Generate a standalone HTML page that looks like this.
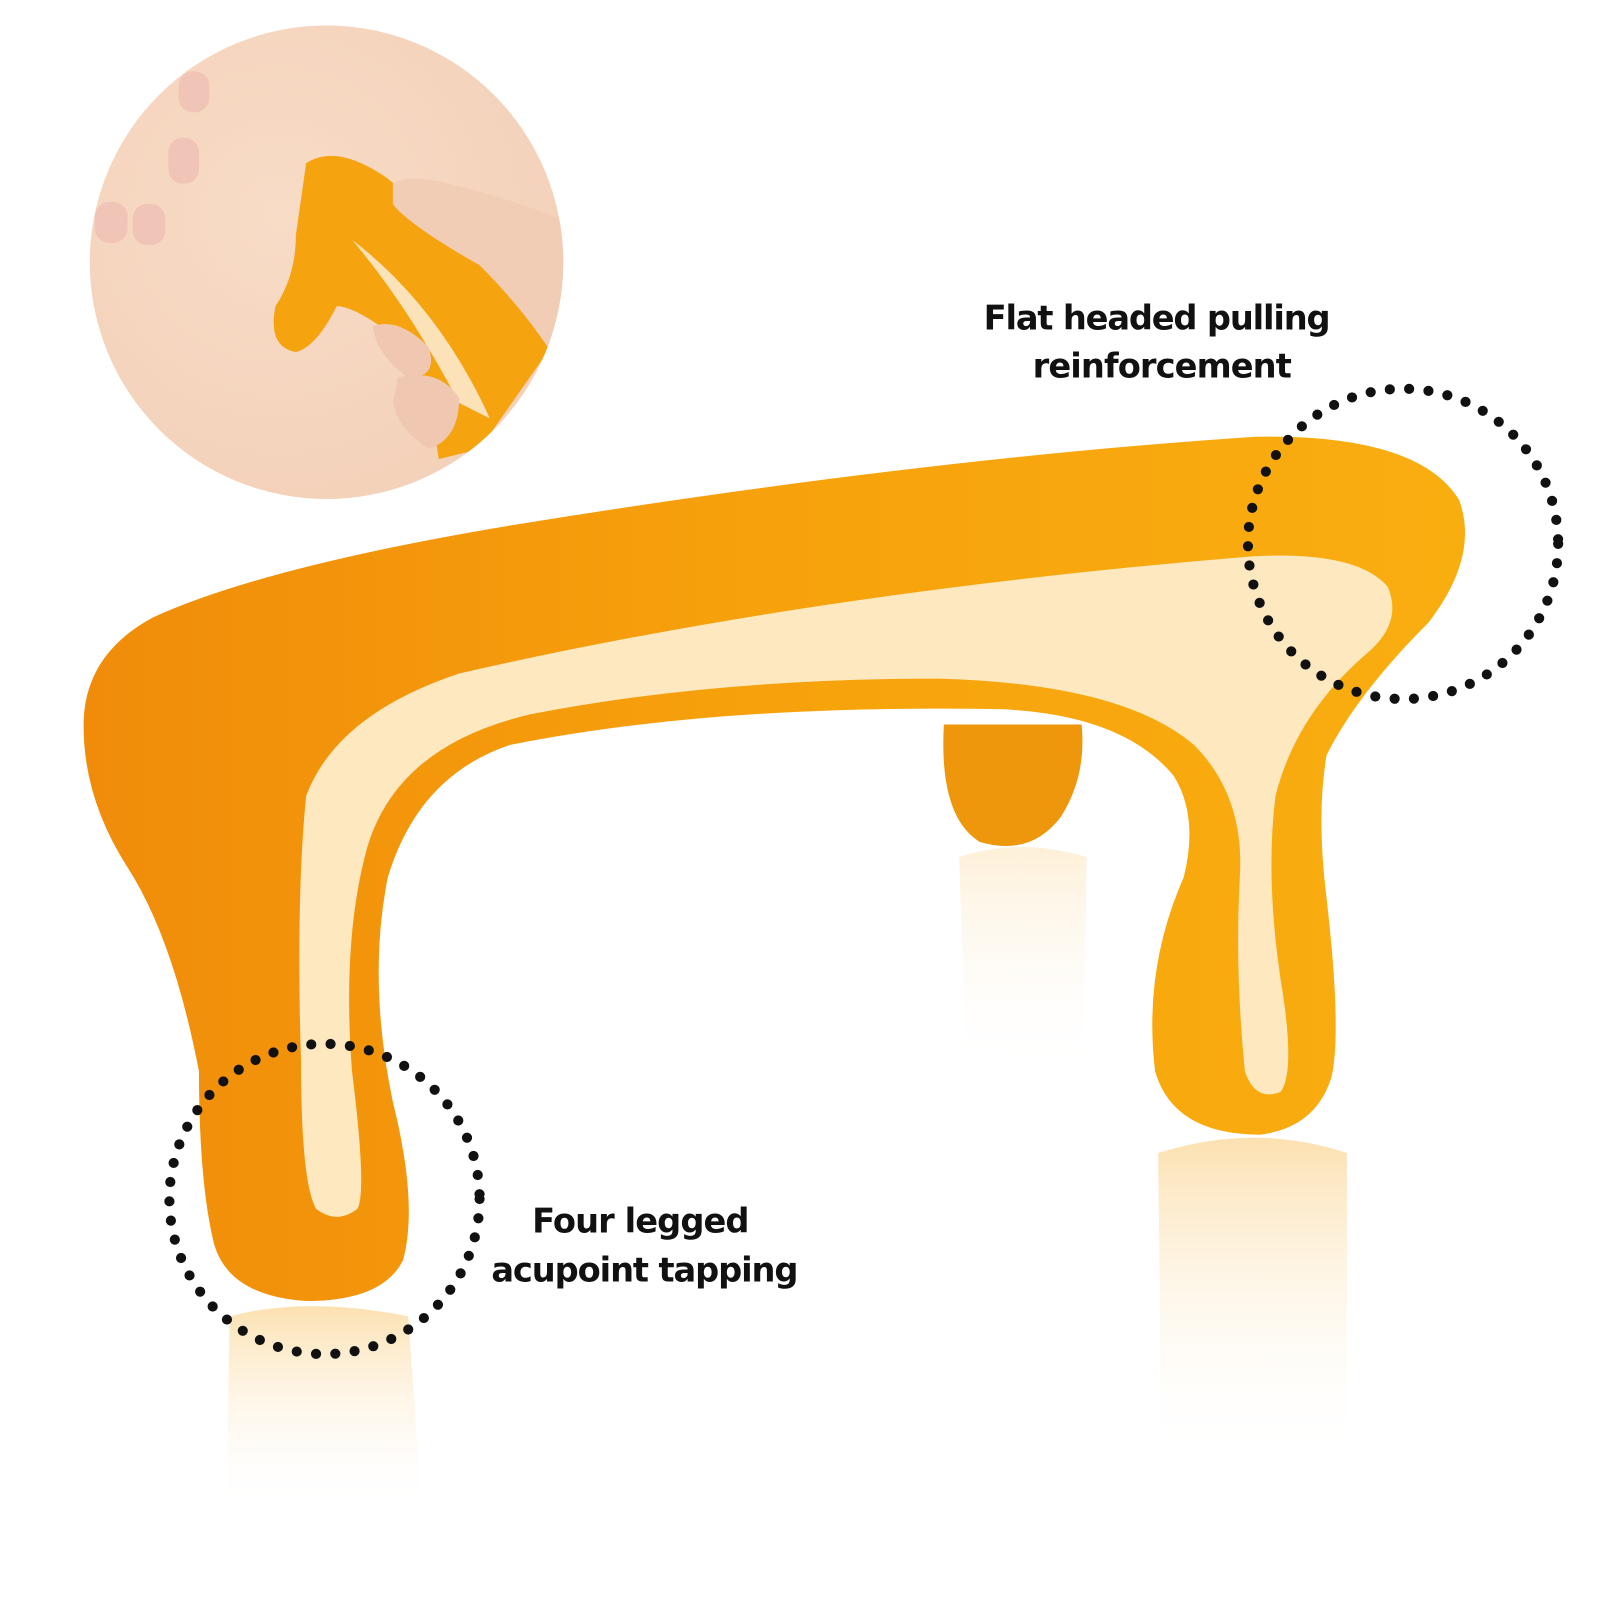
<!DOCTYPE html>
<html><head><meta charset="utf-8"><style>
html,body{margin:0;padding:0;background:#fff;width:1600px;height:1600px;overflow:hidden}
svg{display:block}
text{font-family:"DejaVu Sans","Liberation Sans",sans-serif;font-weight:bold;fill:#111}
</style></head><body>
<svg width="1600" height="1600" viewBox="0 0 1568 1568" xmlns="http://www.w3.org/2000/svg">
<defs>
<linearGradient id="org" x1="0" y1="0" x2="1" y2="0">
<stop offset="0" stop-color="#f08c0a"/><stop offset="0.5" stop-color="#f7a20c"/><stop offset="1" stop-color="#f9ae10"/>
</linearGradient>
<radialGradient id="skin" cx="0.4" cy="0.4" r="0.7">
<stop offset="0" stop-color="#f8dcc7"/><stop offset="1" stop-color="#f3d0b8"/>
</radialGradient>
<linearGradient id="refl" x1="0" y1="0" x2="0" y2="1">
<stop offset="0" stop-color="#f9c870" stop-opacity="0.55"/><stop offset="0.7" stop-color="#fff" stop-opacity="0"/>
</linearGradient>
<clipPath id="cc"><circle cx="320" cy="257" r="232"/></clipPath>
</defs>
<circle cx="320" cy="257" r="232" fill="url(#skin)"/>
<g clip-path="url(#cc)">
<rect x="175" y="70" width="30" height="40" rx="14" fill="#f0c4b6"/>
<rect x="165" y="135" width="30" height="45" rx="14" fill="#f0c4b6"/>
<rect x="130" y="200" width="32" height="40" rx="14" fill="#f0c4b6"/>
<rect x="93" y="198" width="32" height="40" rx="14" fill="#f0c4b6"/>
<path d="M300 160 Q330 140 380 175 L470 250 Q530 300 540 340 L470 440 L430 450 Q420 380 400 340 Q350 300 330 300 Q310 340 290 345 Q262 340 270 300 Q290 270 290 230 Z" fill="#f6a310"/>
<path d="M345 235 Q400 300 450 395 L480 410 Q430 300 345 235Z" fill="#fbe2b8"/>
<path d="M385 180 Q400 170 440 180 Q520 200 560 220 L560 380 Q530 320 470 260 Q400 220 385 200Z" fill="#f2cdb6"/>
<path d="M365 320 Q390 310 420 340 Q430 370 400 370 Q370 350 365 320Z" fill="#f0c7b0"/>
<path d="M390 370 Q430 360 450 390 Q450 430 420 440 Q390 420 385 395Z" fill="#f0c7b0"/>
</g>
<path d="M225 1290 Q300 1270 400 1290 L420 1568 L220 1568 Z" fill="url(#refl)"/>
<path d="M1135 1130 Q1230 1100 1320 1130 L1320 1568 L1140 1568 Z" fill="url(#refl)"/>
<path d="M940 840 Q1000 820 1065 840 L1060 1150 L950 1150 Z" fill="url(#refl)" opacity="0.5"/>
<path d="M925 710 Q920 800 960 825 Q1010 840 1040 800 Q1065 760 1060 710 Z" fill="#ee960c"/>
<path d="M82 705 Q85 640 150 605 Q260 555 500 515 Q900 450 1230 428 Q1390 425 1430 490 Q1450 545 1400 610 Q1330 680 1300 740 Q1290 800 1300 880 Q1315 1010 1305 1055 Q1290 1105 1235 1112 Q1150 1112 1132 1050 Q1120 950 1160 860 Q1175 800 1150 760 Q1100 700 980 695 Q700 690 500 730 Q410 760 380 860 Q360 960 385 1080 Q410 1180 395 1235 Q375 1275 300 1275 Q225 1270 210 1220 Q195 1160 195 1050 Q170 920 125 850 Q80 780 82 705 Z" fill="url(#org)"/>
<path d="M300 780 Q330 700 450 660 Q800 580 1230 545 Q1330 540 1360 575 Q1375 610 1340 640 Q1270 700 1250 780 Q1240 860 1255 960 Q1270 1050 1255 1070 Q1230 1080 1220 1050 Q1210 950 1215 860 Q1220 780 1170 730 Q1100 670 920 665 Q700 665 520 700 Q390 730 360 830 Q335 920 345 1050 Q360 1170 350 1185 Q330 1200 310 1185 Q295 1160 295 1040 Q290 880 300 780 Z" fill="#fde8c0"/>
<circle cx="1375" cy="533" r="152" fill="none" stroke="#111" stroke-width="10" stroke-linecap="round" stroke-dasharray="0 19"/>
<circle cx="318" cy="1175" r="152" fill="none" stroke="#111" stroke-width="10" stroke-linecap="round" stroke-dasharray="0 19"/>
<text x="1134" y="323" font-size="33" text-anchor="middle" textLength="340">Flat headed pulling</text>
<text x="1139" y="370" font-size="33" text-anchor="middle" textLength="254">reinforcement</text>
<text x="628" y="1208" font-size="33" text-anchor="middle" textLength="213">Four legged</text>
<text x="632" y="1256" font-size="33" text-anchor="middle" textLength="301">acupoint tapping</text>
</svg>
</body></html>
